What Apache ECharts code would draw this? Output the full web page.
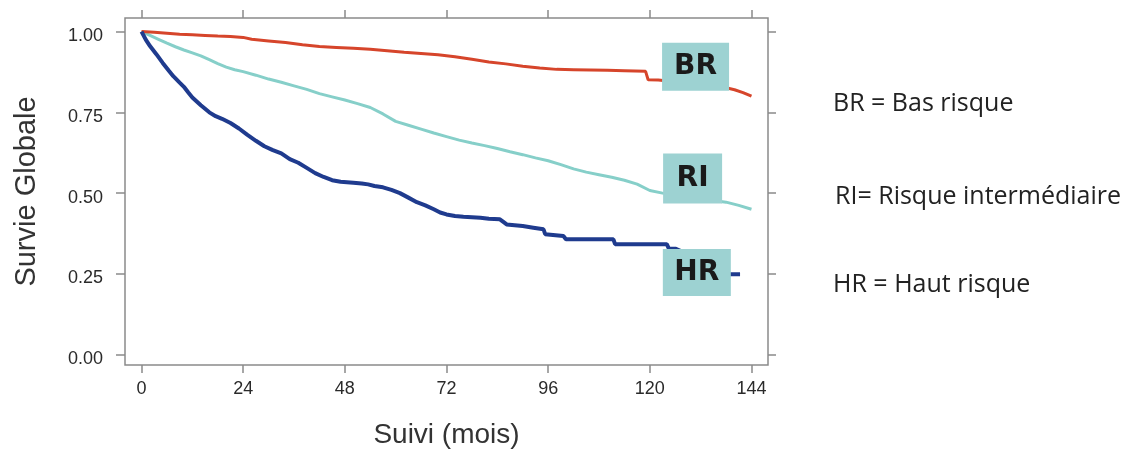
<!DOCTYPE html>
<html>
<head>
<meta charset="utf-8">
<script src="https://cdn.jsdelivr.net/npm/echarts@6/dist/echarts.min.js"></script>
<style>
  html, body { margin: 0; padding: 0; background: #ffffff; }
  #chart { width: 1144px; height: 454px; }
</style>
</head>
<body>
<div id="chart"></div>
<script>
// ---- Data ----
const xTicks = [0, 24, 48, 72, 96, 120, 144];
const yTicks = [0, 0.25, 0.5, 0.75, 1.0];

// BR = Bas risque (red)
const brTime = [0, 3, 6, 9, 12, 15, 18, 21, 24, 26, 30, 34, 38, 42, 46, 50, 54, 58, 62, 66, 70, 74, 78, 82, 86, 90, 94, 98, 102, 106, 110, 114, 119, 119.6, 122, 126, 130, 134, 138, 140, 142, 144];
const brSurv = [1.0, 0.998, 0.995, 0.992, 0.99, 0.988, 0.986, 0.985, 0.982, 0.976, 0.971, 0.966, 0.959, 0.954, 0.951, 0.948, 0.945, 0.941, 0.936, 0.932, 0.928, 0.922, 0.914, 0.906, 0.9, 0.893, 0.887, 0.883, 0.882, 0.881, 0.88, 0.879, 0.877, 0.851, 0.85, 0.845, 0.838, 0.832, 0.826, 0.82, 0.811, 0.80];

// RI = Risque intermédiaire (light teal)
const riTime = [0, 2, 4, 6, 8, 10, 12, 14, 16, 18, 20, 22, 24, 27, 30, 33, 36, 39, 42, 45, 48, 51, 54, 57, 60, 63, 66, 69, 72, 75, 78, 81, 84, 87, 90, 93, 96, 99, 102, 105, 108, 111, 114, 117, 120, 123, 126, 129, 132, 135, 138, 141, 144];
const riSurv = [1.0, 0.988, 0.976, 0.964, 0.953, 0.943, 0.934, 0.925, 0.913, 0.901, 0.89, 0.882, 0.876, 0.865, 0.853, 0.843, 0.832, 0.821, 0.808, 0.798, 0.788, 0.777, 0.765, 0.745, 0.722, 0.71, 0.698, 0.686, 0.675, 0.664, 0.655, 0.647, 0.638, 0.628, 0.619, 0.609, 0.6, 0.588, 0.575, 0.565, 0.557, 0.549, 0.54, 0.528, 0.508, 0.5, 0.493, 0.487, 0.482, 0.477, 0.472, 0.462, 0.45];

// HR = Haut risque (dark blue)
const hrTime = [0, 1, 2, 3.5, 5, 6.5, 7.5, 9, 10, 11, 12, 14, 16, 17.5, 19, 21, 23, 25, 27, 29, 31, 33, 35, 37, 39, 41, 43, 45, 47, 50, 52, 53.5, 55, 57, 59, 61, 63, 65, 67, 69, 70.5, 72, 74, 76, 80, 82, 84.6, 85.5, 86.2, 90, 92.5, 94.9, 95.3, 99.6, 100.2, 111.4, 111.8, 124, 124.5, 126, 131, 136, 141.3];
const hrSurv = [1.0, 0.975, 0.955, 0.93, 0.903, 0.878, 0.862, 0.842, 0.829, 0.812, 0.796, 0.772, 0.75, 0.738, 0.73, 0.717, 0.7, 0.68, 0.662, 0.645, 0.633, 0.623, 0.605, 0.594, 0.578, 0.562, 0.55, 0.54, 0.535, 0.532, 0.53, 0.527, 0.522, 0.518, 0.51, 0.5, 0.486, 0.472, 0.462, 0.45, 0.44, 0.434, 0.429, 0.427, 0.424, 0.421, 0.419, 0.41, 0.403, 0.398, 0.393, 0.388, 0.373, 0.367, 0.357, 0.357, 0.342, 0.342, 0.328, 0.328, 0.3, 0.249, 0.249];

const zip = (t, s) => t.map((v, i) => [v, s[i]]);

const gray = '#8a8a8a';
const tickFont = { fontSize: 18, color: '#2a2a2a', fontFamily: 'Liberation Sans' };

const chart = echarts.init(document.getElementById('chart'), null, { renderer: 'canvas' });

const boxLabel = (txt) => ({
  show: true,
  position: 'inside',
  formatter: txt,
  fontFamily: 'DejaVu Sans',
  fontWeight: 'bold',
  fontSize: 28,
  color: '#1a1a1a'
});

const option = {
  animation: false,
  backgroundColor: '#ffffff',
  grid: {
    left: 125, right: 376, top: 18, bottom: 88,
    show: true, borderColor: gray, borderWidth: 1.5, backgroundColor: 'transparent'
  },
  xAxis: [
    {
      type: 'value', position: 'bottom', min: -3.9, max: 147.9,
      axisLine: { show: false, onZero: false },
      axisTick: { show: true, customValues: xTicks, length: 8, lineStyle: { color: gray, width: 1.5 } },
      axisLabel: { customValues: xTicks, margin: 15, ...tickFont },
      splitLine: { show: false },
      name: 'Suivi (mois)', nameLocation: 'middle', nameGap: 56,
      nameTextStyle: { fontSize: 28, color: '#333333', fontFamily: 'Liberation Sans' }
    },
    {
      type: 'value', position: 'top', min: -3.9, max: 147.9,
      axisLine: { show: false, onZero: false },
      axisTick: { show: true, customValues: xTicks, length: 8, lineStyle: { color: gray, width: 1.5 } },
      axisLabel: { show: false },
      splitLine: { show: false }
    }
  ],
  yAxis: [
    {
      type: 'value', position: 'left', min: -0.032, max: 1.042,
      axisLine: { show: false, onZero: false },
      axisTick: { show: true, customValues: yTicks, length: 9, lineStyle: { color: gray, width: 1.5 } },
      axisLabel: {
        customValues: yTicks, margin: 22,
        formatter: v => '{a|' + Number(v).toFixed(2) + '}',
        rich: { a: { padding: [9, 0, 0, 0], fontSize: 18, color: '#2a2a2a', fontFamily: 'Liberation Sans' } },
        ...tickFont
      },
      splitLine: { show: false },
      name: 'Survie Globale', nameLocation: 'middle', nameRotate: 90, nameGap: 84,
      nameTextStyle: { fontSize: 29, color: '#333333', fontFamily: 'Liberation Sans' }
    },
    {
      type: 'value', position: 'right', min: -0.032, max: 1.042,
      axisLine: { show: false, onZero: false },
      axisTick: { show: true, customValues: yTicks, length: 8, lineStyle: { color: gray, width: 1.5 } },
      axisLabel: { show: false },
      splitLine: { show: false }
    }
  ],
  series: [
    {
      name: 'BR', type: 'line', data: zip(brTime, brSurv), showSymbol: false,
      lineStyle: { color: '#d6452b', width: 3 }, z: 3,
      markPoint: {
        symbol: 'rect', symbolSize: [67, 48], itemStyle: { color: '#9dd2d2' },
        label: boxLabel('BR'), data: [{ coord: [130.8, 0.891] }]
      }
    },
    {
      name: 'RI', type: 'line', data: zip(riTime, riSurv), showSymbol: false,
      lineStyle: { color: '#86cfc9', width: 3 }, z: 2,
      markPoint: {
        symbol: 'rect', symbolSize: [59, 50], itemStyle: { color: '#9dd2d2' },
        label: boxLabel('RI'), data: [{ coord: [130.1, 0.545] }]
      }
    },
    {
      name: 'HR', type: 'line', data: zip(hrTime, hrSurv), showSymbol: false,
      lineStyle: { color: '#1f3b8e', width: 4 }, z: 4,
      markPoint: {
        symbol: 'rect', symbolSize: [68, 47], itemStyle: { color: '#9dd2d2' },
        label: boxLabel('HR'), data: [{ coord: [131.1, 0.254] }]
      }
    }
  ],
  graphic: [
    { type: 'text', x: 833, y: 104, style: { text: 'BR = Bas risque', font: '25px "Open Sans"', fill: '#222222', verticalAlign: 'middle' } },
    { type: 'text', x: 835, y: 197, style: { text: 'RI= Risque intermédiaire', font: '25px "Open Sans"', fill: '#222222', verticalAlign: 'middle' } },
    { type: 'text', x: 833, y: 285, style: { text: 'HR = Haut risque', font: '25px "Open Sans"', fill: '#222222', verticalAlign: 'middle' } }
  ]
};

chart.setOption(option);
</script>
</body>
</html>
